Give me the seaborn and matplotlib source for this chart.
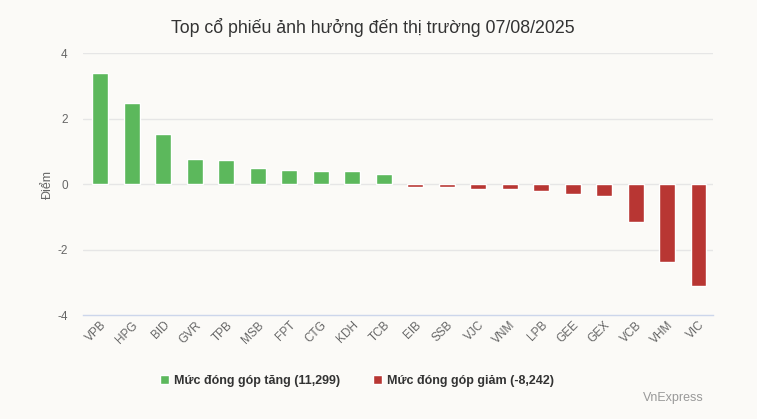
import matplotlib
matplotlib.use("Agg")
import matplotlib.pyplot as plt
import seaborn as sns
import pandas as pd

# ---- data ----
stocks = ["VPB", "HPG", "BID", "GVR", "TPB", "MSB", "FPT", "CTG", "KDH", "TCB",
          "EIB", "SSB", "VJC", "VNM", "LPB", "GEE", "GEX", "VCB", "VHM", "VIC"]
points = [3.40, 2.48, 1.53, 0.76, 0.73, 0.49, 0.43, 0.40, 0.40, 0.31,
          -0.10, -0.10, -0.14, -0.16, -0.20, -0.29, -0.35, -1.15, -2.37, -3.12]
label_up = "Mức đóng góp tăng (11,299)"
label_down = "Mức đóng góp giảm (-8,242)"
yticks = [-4, -2, 0, 2, 4]
title = "Top cổ phiếu ảnh hưởng đến thị trường 07/08/2025"
ylabel = "Điểm"
source = "VnExpress"

GREEN = "#5cb85c"
RED = "#b83633"
BG = "#fbfaf7"

df = pd.DataFrame({"Mã": stocks, "Điểm": points})
df["Loại"] = [label_up if v >= 0 else label_down for v in points]

sns.set_theme(style="white")
plt.rcParams["font.family"] = ["Liberation Sans", "DejaVu Sans"]

fig = plt.figure(figsize=(7.57, 4.19), dpi=100, facecolor=BG)
ax = fig.add_axes([0.1096, 0.248, 0.832, 0.6255])
ax.set_facecolor(BG)

sns.barplot(data=df, x="Mã", y="Điểm", hue="Loại", order=stocks,
            hue_order=[label_up, label_down],
            palette={label_up: GREEN, label_down: RED},
            dodge=False, width=0.5, saturation=1, ax=ax, legend=True)

ax.set_xlim(-0.55, 19.45)
ax.set_ylim(-4, 4)
ax.set_yticks(yticks)
ax.set_yticklabels([str(t) for t in yticks], color="#666666", fontsize=8.5)
ax.tick_params(axis="y", length=0, pad=11)
ax.tick_params(axis="x", length=0, pad=3)
plt.setp(ax.get_xticklabels(), rotation=45, ha="right", rotation_mode="anchor",
         color="#666666", fontsize=8.5)
ax.set_xlabel("")
ax.set_ylabel(ylabel, color="#666666", fontsize=9, labelpad=2)

for t in [0, 2, 4, -2]:
    ax.axhline(t, color="#e6e6e6", lw=1, zorder=0)
for s in ["top", "right", "left"]:
    ax.spines[s].set_visible(False)
ax.spines["bottom"].set_color("#ccd6eb")
ax.spines["bottom"].set_linewidth(1)

fig.text(0.493, 0.935, title, ha="center", va="center", fontsize=12.8, color="#333333")

sns.move_legend(ax, "center", bbox_to_anchor=(0.472, 0.091),
                bbox_transform=fig.transFigure, ncol=2, frameon=False, title=None,
                handlelength=0.75, handleheight=0.75, handletextpad=0.4,
                columnspacing=2.6, prop={"weight": "bold", "size": 9})
for txt in ax.get_legend().get_texts():
    txt.set_color("#333333")

fig.text(0.93, 0.05, source, ha="right", va="center", fontsize=9, color="#999999")

fig.savefig("out.png", dpi=100, facecolor=BG)
